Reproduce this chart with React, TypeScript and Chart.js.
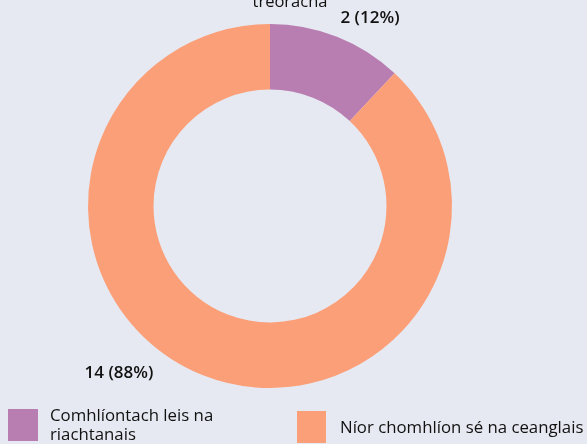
import React, { useEffect, useRef } from "react";
import { Chart, registerables } from "chart.js";

Chart.register(...registerables);

const categories = ["Comhlíontach leis na riachtanais", "Níor chomhlíon sé na ceanglais"];
const legendLines = [["Comhlíontach leis na", "riachtanais"], ["Níor chomhlíon sé na ceanglais"]];
const counts = [2, 14];
const percents = [12, 88];
const colors = ["#B87DB1", "#FB9F78"];
const topText = "treoracha";

const BG = "#E6E9F1";
const FONT = "'Open Sans', sans-serif";

const overlay = {
  id: "overlay",
  afterDraw(chart: any) {
    const ctx = chart.ctx as CanvasRenderingContext2D;
    const meta = chart.getDatasetMeta(0);
    ctx.save();
    ctx.fillStyle = "#111111";
    // partially clipped text at top
    ctx.font = `16.5px ${FONT}`;
    ctx.textAlign = "center";
    ctx.textBaseline = "alphabetic";
    ctx.fillText(topText, 290, 7);
    // value labels outside the arcs
    ctx.font = `600 17px ${FONT}`;
    ctx.textBaseline = "middle";
    const pos = [[370, 18], [119, 373]];
    meta.data.forEach((_arc: any, i: number) => {
      ctx.fillText(`${counts[i]} (${percents[i]}%)`, pos[i][0], pos[i][1]);
    });
    // legend
    ctx.font = `16.8px ${FONT}`;
    ctx.textAlign = "left";
    ctx.fillStyle = colors[0];
    ctx.fillRect(8, 409, 30, 32);
    ctx.fillStyle = colors[1];
    ctx.fillRect(297, 411, 29, 32);
    ctx.fillStyle = "#111111";
    ctx.fillText(legendLines[0][0], 50, 416);
    ctx.fillText(legendLines[0][1], 50, 435);
    ctx.fillText(legendLines[1][0], 340, 428);
    ctx.restore();
  },
};

export default function App() {
  const ref = useRef<HTMLCanvasElement>(null);
  useEffect(() => {
    document.body.style.margin = "0";
    document.body.style.background = BG;
    const chart = new Chart(ref.current!, {
      type: "doughnut",
      data: {
        labels: categories,
        datasets: [
          {
            data: percents,
            backgroundColor: colors,
            borderWidth: 0,
          },
        ],
      },
      options: {
        responsive: false,
        animation: false,
        cutout: "64%",
        layout: { padding: { left: 88, right: 135, top: 24, bottom: 56 } },
        plugins: {
          legend: { display: false },
          tooltip: { enabled: false },
          title: { display: false },
        },
      },
      plugins: [overlay],
    });
    return () => chart.destroy();
  }, []);
  return (
    <div style={{ width: 587, height: 444, background: BG }}>
      <canvas ref={ref} width={587} height={444} style={{ display: "block" }} />
    </div>
  );
}
